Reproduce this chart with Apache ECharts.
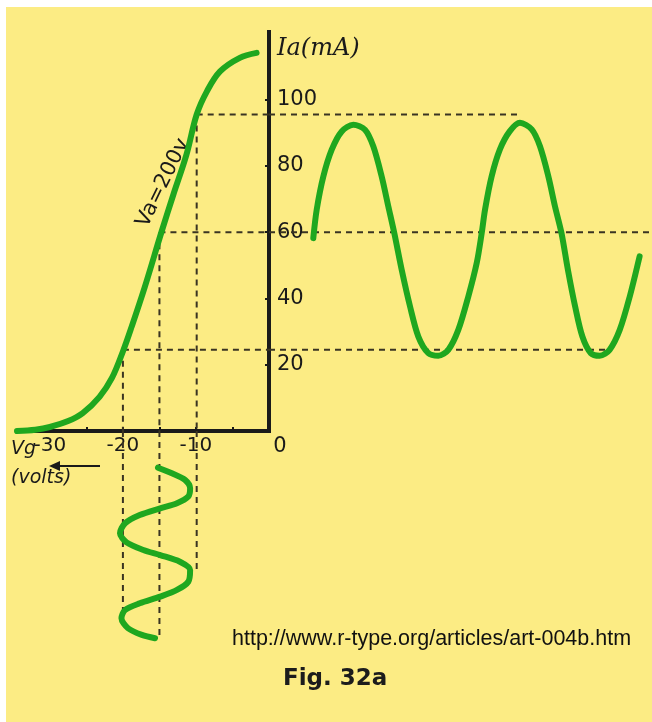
<!DOCTYPE html>
<html>
<head>
<meta charset="utf-8">
<script src="https://cdn.jsdelivr.net/npm/echarts@6/dist/echarts.min.js"></script>
<style>
  html, body { margin: 0; padding: 0; background: #fff; }
  #main {
    width: 652px; height: 722px;
    background: linear-gradient(#fcec84, #fcec84) 6px 7px / 646px 715px no-repeat, #fff;
  }
</style>
</head>
<body>
<div id="main"></div>
<script>
// tick labels
const vgTicks = [-30, -20, -10, 0]
const vgMinorTicks = [-30, -25, -20, -15, -10, -5]
const iaTicks = [20, 40, 60, 80, 100]

// Ia / Vg characteristic at Va = 200 V  [Vg (V), Ia (mA)]
const transferCurve = [
  [-34.5, 0], [-32, 0.4], [-30, 1.2], [-27.5, 3], [-25.5, 5.4], [-23.2, 10.3],
  [-21.5, 16], [-20, 24], [-18.8, 31.5], [-17, 43.5], [-14.7, 60.2], [-13.1, 71.3],
  [-11.3, 83.4], [-9.9, 95.5], [-8.5, 102.5], [-6.7, 108.5], [-4, 112.6], [-1.7, 114.1]
]

// anode current against time  [phase (deg), Ia (mA)]
const outputWave = [
  [4.4, 58.2], [11.7, 66.8], [25.8, 76.8], [43.7, 84.9], [65, 90.4], [89.7, 92.4],
  [114.6, 90.9], [132.3, 85.9], [150.2, 76.8], [164.3, 67.8], [177.1, 59.7], [192.9, 48.6],
  [210.6, 37.6], [228.3, 28.5], [249.6, 23.5], [270.9, 22.7], [292.2, 24.5], [313.5, 30.5],
  [334.9, 40.6], [352.8, 50.7], [363.4, 59.7], [370.5, 66.8], [384.5, 76.8], [402, 84.9],
  [423, 90.4], [445, 93], [470, 91], [487.6, 85.9], [505.5, 76.8], [519.6, 67.8],
  [533.5, 59.7], [547.2, 48.6], [562.5, 37.6], [578, 28.5], [596, 23.5], [615, 22.7],
  [636, 24.5], [657.6, 30.5], [679, 40.6], [700, 52.7]
]

// grid voltage against time  [Vg (V), phase (deg)]
const inputWave = [
  [-15.2, -10], [-13.3, 15], [-11.5, 45], [-10.8, 83], [-11.05, 120], [-12.6, 150],
  [-14.9, 173], [-17.7, 203], [-19.7, 240], [-20.4, 285], [-19.5, 326], [-17.2, 360],
  [-14.9, 383], [-12.2, 413], [-10.8, 450], [-11.05, 503], [-12.6, 540], [-14.9, 570],
  [-17.7, 600], [-19.7, 630], [-20.2, 667], [-19.3, 712], [-17.4, 742], [-15.6, 757]
]

// projection lines: max / bias / min
const levelIa = [95.5, 60, 24.5]
const levelVg = [-9.9, -15, -20]
const outputEnds = [445, 720, 640]
const inputEnds = [450, 765, 640]

const green = '#1fa71f'
const ink = '#1a1a1a'
const dashStyle = { color: '#3a3422', width: 2, type: [6, 5] }

const chart = echarts.init(document.getElementById('main'))

function dashed (data, xi, yi) {
  return {
    type: 'line', xAxisIndex: xi, yAxisIndex: yi, data,
    showSymbol: false, silent: true, z: 1,
    lineStyle: dashStyle
  }
}

const dashSeries = []
levelIa.forEach((ia, i) => {
  const vg = levelVg[i]
  dashSeries.push(dashed([[vg, ia], [0, ia]], 0, 0))
  dashSeries.push(dashed([[vg, ia], [vg, 0]], 0, 0))
  dashSeries.push(dashed([[-90, ia], [outputEnds[i], ia]], 1, 1))
  dashSeries.push(dashed([[vg, -175], [vg, inputEnds[i]]], 2, 2))
})

function wave (data, xi, yi, smooth) {
  return {
    type: 'line', xAxisIndex: xi, yAxisIndex: yi, data, smooth,
    showSymbol: false, silent: true, z: 5,
    lineStyle: { color: green, width: 6, cap: 'round', join: 'round' }
  }
}

const labelFont = { fontFamily: 'DejaVu Sans', color: ink }

const option = {
  animation: false,
  grid: [
    { left: 17, top: 32, width: 252, height: 399 },
    { left: 269, top: 32, width: 380, height: 399 },
    { left: 17, top: 431, width: 252, height: 219 }
  ],
  xAxis: [
    {
      type: 'value', gridIndex: 0, min: -34.5, max: 0,
      axisLine: { onZero: false, lineStyle: { color: ink, width: 4, cap: 'square' } },
      axisTick: { inside: true, length: 4, customValues: vgMinorTicks, lineStyle: { color: ink, width: 2 } },
      axisLabel: {
        customValues: vgTicks, margin: 5, fontSize: 20, ...labelFont,
        formatter: v => v === 0 ? '{z|0}' : String(v),
        rich: { z: { padding: [0, 0, 0, 22], fontSize: 21, ...labelFont } }
      },
      splitLine: { show: false }
    },
    { type: 'value', gridIndex: 1, min: -90, max: 720, show: false },
    { type: 'value', gridIndex: 2, min: -34.5, max: 0, show: false }
  ],
  yAxis: [
    {
      type: 'value', gridIndex: 0, position: 'right', min: 0, max: 120.4,
      axisLine: { show: true, lineStyle: { color: ink, width: 4, cap: 'square' } },
      axisTick: { show: true, inside: true, length: 4, customValues: iaTicks, lineStyle: { color: ink, width: 2 } },
      axisLabel: { customValues: iaTicks, margin: 8, fontSize: 21, ...labelFont },
      splitLine: { show: false }
    },
    { type: 'value', gridIndex: 1, min: 0, max: 120.4, show: false },
    { type: 'value', gridIndex: 2, min: -175, max: 810, inverse: true, show: false }
  ],
  graphic: [
    { type: 'text', left: 277, top: 37, style: { text: 'Ia(mA)', font: 'italic 24px "DejaVu Serif"', fill: ink } },
    {
      type: 'text', x: 163, y: 183, rotation: 64 * Math.PI / 180,
      style: {
        text: 'Va=200v', font: '21px "DejaVu Sans"', fill: ink,
        align: 'center', verticalAlign: 'middle', textAlign: 'center', textVerticalAlign: 'middle'
      }
    },
    { type: 'text', left: 11, top: 440, style: { text: 'Vg', font: 'italic 19px "DejaVu Sans"', fill: ink } },
    { type: 'text', left: 11, top: 469, style: { text: '(volts)', font: 'italic 19px "DejaVu Sans"', fill: ink } },
    { type: 'line', shape: { x1: 100, y1: 466, x2: 56, y2: 466 }, style: { stroke: ink, lineWidth: 2 } },
    { type: 'polygon', shape: { points: [[49, 466], [60, 461], [60, 471]] }, style: { fill: ink } },
    { type: 'text', left: 232, top: 628, style: { text: 'http://www.r-type.org/articles/art-004b.htm', font: '21.5px "Liberation Sans"', fill: '#111' } },
    { type: 'text', left: 283, top: 668, style: { text: 'Fig. 32a', font: 'bold 23px "DejaVu Sans"', fill: '#1c1c1c' } }
  ],
  series: [
    ...dashSeries,
    wave(transferCurve, 0, 0, 0.35),
    wave(outputWave, 1, 1, 0.3),
    wave(inputWave, 2, 2, 0.3)
  ]
}

chart.setOption(option)
</script>
</body>
</html>
